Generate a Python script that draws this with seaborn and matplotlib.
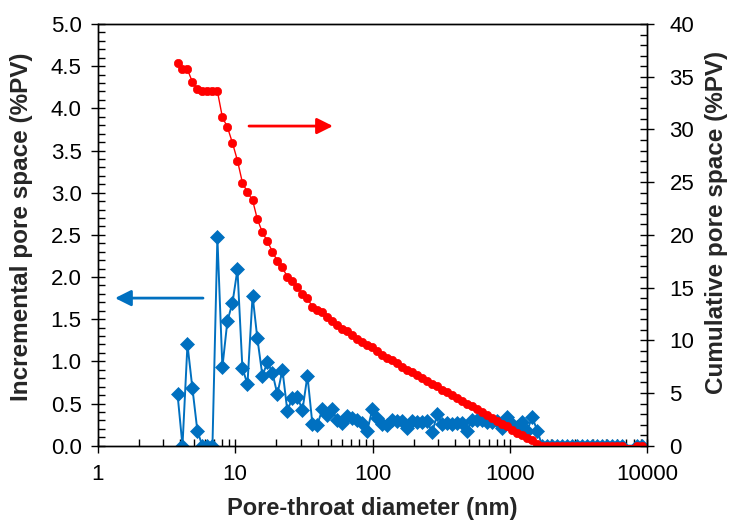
import matplotlib
matplotlib.use("Agg")
import matplotlib.pyplot as plt
import seaborn as sns
import pandas as pd
from matplotlib.ticker import LogLocator, MultipleLocator, FuncFormatter, FormatStrFormatter, NullFormatter

# ---- data ----
diameter_nm = [3.81, 4.14, 4.50, 4.89, 5.32, 5.78, 6.29, 6.84, 7.43, 8.08, 8.79, 9.56,
               10.4, 11.3, 12.3, 13.4, 14.5, 15.8, 17.2, 18.7,
               20.3, 22.1, 24.0, 26.1, 28.4, 30.9, 33.6, 36.5, 39.7, 43.1,
               46.9, 51.0, 55.5, 60.3, 65.6, 71.3, 77.5, 84.3, 91.6, 99.7,
               108, 118, 128, 139, 152, 165, 179, 195, 212, 230,
               250, 272, 296, 322, 350, 381, 414, 450, 489, 532,
               578, 629, 684, 744, 808, 879, 956, 1039, 1130, 1229,
               1336, 1453, 1579, 1717, 1867, 2030, 2208, 2401, 2611, 2839,
               3086, 3356, 3649, 3967, 4314, 4691, 5100, 5546, 6030, 6556,
               8430, 9160]

incremental = [0.61, 0.0, 1.20, 0.68, 0.17, 0.0, 0.0, 0.0, 2.47, 0.93,
               1.48, 1.69, 2.09, 0.92, 0.73, 1.78, 1.28, 0.83, 0.99, 0.86,
               0.61, 0.90, 0.41, 0.57, 0.58, 0.42, 0.83, 0.26, 0.25, 0.43,
               0.36, 0.43, 0.30, 0.27, 0.35, 0.33, 0.30, 0.27, 0.18, 0.43,
               0.33, 0.26, 0.24, 0.31, 0.29, 0.29, 0.21, 0.29, 0.28, 0.28,
               0.29, 0.16, 0.37, 0.26, 0.27, 0.26, 0.27, 0.27, 0.18, 0.30,
               0.30, 0.30, 0.28, 0.28, 0.29, 0.21, 0.34, 0.26, 0.22, 0.28,
               0.18, 0.34, 0.18, 0.0, 0.0, 0.0, 0.0, 0.0, 0.0, 0.0,
               0.0, 0.0, 0.0, 0.0, 0.0, 0.0, 0.0, 0.0, 0.0, 0.0,
               0.0, 0.0]

cumulative = [36.31, 35.69, 35.69, 34.49, 33.80, 33.63, 33.63, 33.63, 33.63, 31.16,
              30.22, 28.73, 27.05, 24.96, 24.03, 23.29, 21.51, 20.23, 19.39, 18.39,
              17.52, 16.91, 16.00, 15.58, 15.01, 14.42, 14.00, 13.16, 12.90, 12.65,
              12.21, 11.85, 11.41, 11.11, 10.84, 10.48, 10.15, 9.85, 9.57, 9.39,
              8.96, 8.63, 8.36, 8.12, 7.81, 7.51, 7.22, 7.01, 6.72, 6.43,
              6.15, 5.86, 5.70, 5.32, 5.06, 4.79, 4.52, 4.25, 3.98, 3.80,
              3.49, 3.19, 2.89, 2.61, 2.32, 2.03, 1.82, 1.47, 1.21, 0.99,
              0.71, 0.53, 0.18, 0.0, 0.0, 0.0, 0.0, 0.0, 0.0, 0.0,
              0.0, 0.0, 0.0, 0.0, 0.0, 0.0, 0.0, 0.0, 0.0, 0.0,
              0.0, 0.0]

x_ticks = [1, 10, 100, 1000, 10000]

df = pd.DataFrame({"d": diameter_nm, "inc": incremental, "cum": cumulative})

sns.set_style("ticks")
plt.rcParams['font.family'] = ['Liberation Sans', 'DejaVu Sans']

BLUE = "#0070C0"
RED = "#FF0000"

fig = plt.figure(figsize=(7.33, 5.22), dpi=100)
ax = fig.add_axes([0.1333, 0.1462, 0.7498, 0.8078])
ax2 = ax.twinx()

sns.lineplot(data=df, x="d", y="inc", ax=ax, sort=False, estimator=None,
             color=BLUE, linewidth=1.4, marker="D", markersize=7,
             markeredgecolor=BLUE, markeredgewidth=0.5)
sns.lineplot(data=df, x="d", y="cum", ax=ax2, sort=False, estimator=None,
             color=RED, linewidth=1.0, marker="o", markersize=6,
             markeredgecolor=RED, markeredgewidth=0.5)

ax.set_xscale("log")
ax.set_xlim(1, 10000)
ax.set_ylim(0, 5)
ax2.set_ylim(0, 40)

ax.xaxis.set_major_locator(LogLocator(base=10, numticks=10))
ax.xaxis.set_minor_locator(LogLocator(base=10, subs=range(2, 10), numticks=50))
ax.xaxis.set_major_formatter(FuncFormatter(lambda v, p: f"{v:g}"))
ax.xaxis.set_minor_formatter(NullFormatter())
ax.set_xticks(x_ticks)

ax.yaxis.set_major_locator(MultipleLocator(0.5))
ax.yaxis.set_minor_locator(MultipleLocator(0.1))
ax.yaxis.set_major_formatter(FormatStrFormatter("%.1f"))
ax2.yaxis.set_major_locator(MultipleLocator(5))
ax2.yaxis.set_minor_locator(MultipleLocator(1))

for a in (ax, ax2):
    a.tick_params(which="major", direction="inout", length=10, width=1.0,
                  labelsize=16, color="black", labelcolor="black")
    a.tick_params(which="minor", direction="in", length=5, width=1.0, color="black")
    for s in a.spines.values():
        s.set_visible(True)
        s.set_color("black")
        s.set_linewidth(1.0)

ax.tick_params(axis="x", which="major", pad=8.5)
ax.tick_params(axis="y", which="major", pad=6.5)
ax2.tick_params(axis="y", which="major", pad=11)

ax.set_xlabel("Pore-throat diameter (nm)", fontsize=17, fontweight="bold")
ax.set_ylabel("Incremental pore space (%PV)", fontsize=17.5, fontweight="bold")
ax2.set_ylabel("Cumulative pore space (%PV)", fontsize=17.5, fontweight="bold")
ax.xaxis.set_label_coords(0.5, -0.122)
ax.yaxis.set_label_coords(-0.118, 0.52)
ax2.yaxis.set_label_coords(1.105, 0.53)

ax.annotate("", xy=(0.428, 0.758), xytext=(0.2753, 0.758), xycoords="axes fraction",
            arrowprops=dict(arrowstyle="-|>,head_length=0.6,head_width=0.3",
                            color=RED, lw=2, mutation_scale=16, shrinkA=0, shrinkB=0))
ax.annotate("", xy=(0.0315, 0.350), xytext=(0.1916, 0.350), xycoords="axes fraction",
            arrowprops=dict(arrowstyle="-|>,head_length=0.6,head_width=0.3",
                            color=BLUE, lw=2, mutation_scale=16, shrinkA=0, shrinkB=0))

fig.savefig("out.png", dpi=100)
